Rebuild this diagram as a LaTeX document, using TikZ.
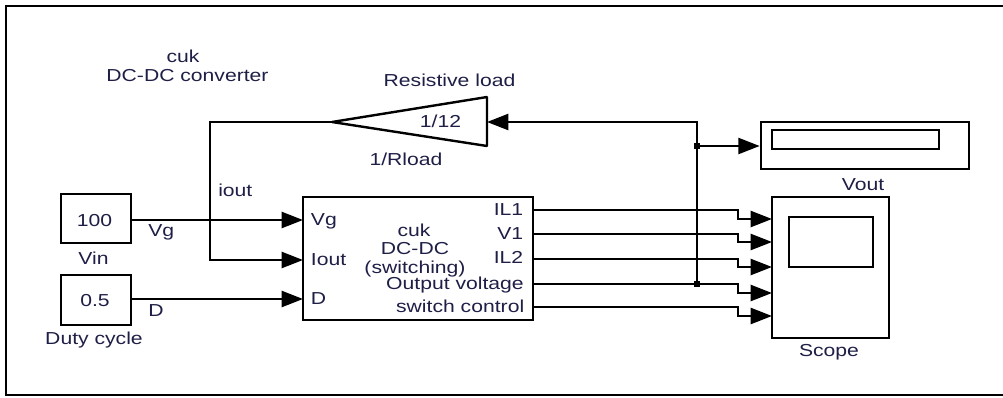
\documentclass[tikz,border=0pt]{standalone}
\usepackage{fontspec}
\setmainfont{Liberation Sans}[FakeStretch=1.22]
\usetikzlibrary{arrows.meta}
\definecolor{txt}{RGB}{30,30,70}
\begin{document}
\begin{tikzpicture}[x=0.75pt,y=-0.75pt,
  blk/.style={draw, line width=2pt, inner sep=0pt, fill=white},
  lbl/.style={inner sep=0pt, text=txt, font=\fontsize{13pt}{15pt}\selectfont},
  wire/.style={line width=1.8pt},
  arr/.style={wire, -{Triangle[length=16pt,width=12pt]}},
  dot/.style={rectangle, fill, inner sep=0pt, minimum size=5pt},
  thinbox/.style={draw, line width=2pt}]
\useasboundingbox (0,0) rectangle (1003,397);
% frame
\draw[line width=2pt] (1003,6) -- (6,6) -- (6,395) -- (1003,395);

% title
\node[lbl, anchor=base] (title1) at (183,62.3) {cuk};
\node[lbl, anchor=base] (title2) at (187.5,81.7) {DC-DC converter};

% source blocks
\node[blk, minimum width=52.5pt, minimum height=36.75pt] (vin) at (96,218.5) {};
\node[lbl, anchor=base] (vinval) at (94.5,226) {100};
\node[lbl, anchor=base] (vinlbl) at (93.5,264) {Vin};
\node[blk, minimum width=52.5pt, minimum height=37.5pt] (duty) at (96,300) {};
\node[lbl, anchor=base] (dutyval) at (95,306.7) {0.5};
\node[lbl, anchor=base] (dutylbl) at (94,344) {Duty cycle};

% main block
\node[blk, minimum width=172.5pt, minimum height=92.25pt] (cuk) at (418,258.5) {};
\node[lbl, anchor=base] (cuk1) at (414,236) {cuk};
\node[lbl, anchor=base] (cuk2) at (415,254) {DC-DC};
\node[lbl, anchor=base] (cuk3) at (415,273.3) {(switching)};
\node[lbl, anchor=base west] (inVg) at (310.7,225) {Vg};
\node[lbl, anchor=base west] (inIout) at (310.7,265) {Iout};
\node[lbl, anchor=base west] (inD) at (310.7,304.3) {D};
\node[lbl, anchor=base east] (outIL1) at (523.5,215) {IL1};
\node[lbl, anchor=base east] (outV1) at (523.5,239.3) {V1};
\node[lbl, anchor=base east] (outIL2) at (523.5,263.3) {IL2};
\node[lbl, anchor=base east] (outVo) at (524,289.3) {Output voltage};
\node[lbl, anchor=base east] (outSw) at (524.5,312.7) {switch control};

% ports
\coordinate (pVg) at (303,220);
\coordinate (pIout) at (303,260);
\coordinate (pD) at (303,299);
\coordinate (oIL1) at (533,210);
\coordinate (oV1) at (533,234);
\coordinate (oIL2) at (533,259);
\coordinate (oVo) at (533,284);
\coordinate (oSw) at (533,307);

% gain
\coordinate (gtip) at (332,122);
\coordinate (gin) at (487,122);
\draw[line width=1.8pt, line join=bevel] (487,97) -- (gtip) -- (487,146) -- cycle;
\node[lbl, anchor=base] (gainval) at (440.5,127.7) {1/12};
\node[lbl, anchor=base] (gainlbl) at (449.5,86.7) {Resistive load};
\node[lbl, anchor=base] (gainname) at (406,165) {1/Rload};

% display
\node[blk, minimum width=156pt, minimum height=35.25pt] (vout) at (865,145.5) {};
\draw[thinbox] (772,130) rectangle (939,149);
\node[lbl, anchor=base] (voutlbl) at (863,190.7) {Vout};

% scope
\node[blk, minimum width=87.75pt, minimum height=105.75pt] (scope) at (830.5,267.5) {};
\draw[thinbox] (789,217) rectangle (873,267);
\node[lbl, anchor=base] (scopelbl) at (829,356.7) {Scope};
\coordinate (s1) at (772,219);
\coordinate (s2) at (772,242);
\coordinate (s3) at (772,267);
\coordinate (s4) at (772,293);
\coordinate (s5) at (772,316);
\coordinate (stepx) at (738,0);

% wire labels
\node[lbl, anchor=base west] (vglbl) at (148,236) {Vg};
\node[lbl, anchor=base west] (dlbl) at (148,316) {D};
\node[lbl, anchor=base west] (ioutlbl) at (218,196) {iout};

% connectors
\draw[arr] (vin.east |- pVg) -- (pVg);
\draw[arr] (duty.east |- pD) -- (pD);
\coordinate (fbx) at (210,122);
\draw[arr] (gtip) -- (fbx) |- (pIout);

\foreach \o/\s in {oIL1/s1, oV1/s2, oIL2/s3, oVo/s4, oSw/s5}{
  \draw[arr] (\o) -- (\o -| stepx) -- (\s -| stepx) -- (\s);
}

\coordinate (j1) at (697,284);
\coordinate (j2) at (697,146);
\draw[arr] (j1) |- (gin);
\draw[arr] (j2) -- (vout.west |- j2);
\node[dot] (d1) at (j1) {};
\node[dot] (d2) at (j2) {};
\end{tikzpicture}
\end{document}
